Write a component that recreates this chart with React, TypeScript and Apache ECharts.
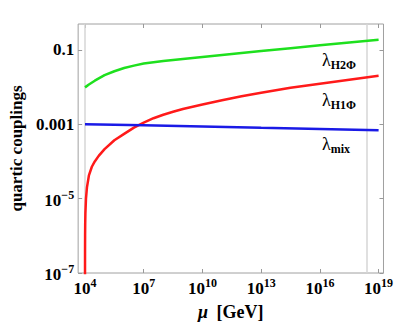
import React, { useEffect, useRef } from "react";
import * as echarts from "echarts";

// log10(mu/GeV) positions and coupling values
const redExp = [4.0, 4.0005, 4.002, 4.005, 4.01, 4.02, 4.05, 4.1, 4.2, 4.35, 4.5, 4.7, 5.0, 5.5, 6.0, 6.5, 7.0, 7.5, 8.0, 8.5, 9.0, 10, 11, 12, 13, 14.5, 16, 17.5, 19];
const redVal = [1e-9, 1e-7, 4e-7, 1e-6, 2e-6, 4e-6, 1.0e-5, 2.0e-5, 4.2e-5, 7.2e-5, 1.0e-4, 1.41e-4, 2.14e-4, 3.72e-4, 5.5e-4, 8.1e-4, 1.11e-3, 1.45e-3, 1.8e-3, 2.16e-3, 2.57e-3, 3.39e-3, 4.42e-3, 5.62e-3, 7.03e-3, 9.6e-3, 1.23e-2, 1.58e-2, 2.0e-2];

const greenExp = [4.0, 4.2, 4.5, 5.0, 5.5, 6.0, 6.5, 7.0, 7.5, 8.0, 9.0, 10, 11.5, 13, 14.5, 16, 17.5, 19];
const greenVal = [0.0098, 0.0117, 0.0148, 0.0209, 0.0266, 0.0324, 0.0376, 0.0427, 0.0462, 0.0501, 0.0569, 0.0646, 0.0776, 0.0933, 0.111, 0.132, 0.157, 0.186];

const blueExp = [4, 7, 10, 13, 16, 19];
const blueVal = [1.0e-3, 9.4e-4, 8.7e-4, 8.0e-4, 7.5e-4, 6.9e-4];

const xTickExp = [4, 7, 10, 13, 16, 19];
const yTickVals = [0.1, 0.001, 1e-5, 1e-7];
const vLineExp = [4, 18.38];

const lineLabels = [
  { sub: "H2Φ", top: 51 },
  { sub: "H1Φ", top: 91 },
  { sub: "mix", top: 135 },
];

const FONT = "'Liberation Serif', 'Times New Roman', serif";

export default function App() {
  const ref = useRef<HTMLDivElement>(null);
  useEffect(() => {
    if (!ref.current) return;
    const chart = echarts.init(ref.current, undefined, { renderer: "svg" });
    const supRich = {
      b: { fontFamily: FONT, fontWeight: "bold", fontSize: 17, color: "#000", verticalAlign: "bottom", lineHeight: 20 },
      s: { fontFamily: FONT, fontWeight: "bold", fontSize: 12, color: "#000", verticalAlign: "top", lineHeight: 14 },
    };
    const toPair = (xs: number[], ys: number[]) => xs.map((x, i) => [x, ys[i]]);
    const labRich = {
      l: { fontFamily: FONT, fontSize: 18, fill: "#000" },
      s: { fontFamily: FONT, fontWeight: "bold", fontSize: 12, fill: "#000", padding: [10, 0, 0, 0] },
    };
    chart.setOption({
      animation: false,
      grid: { left: 72, right: 11, top: 24, bottom: 54, show: true, borderColor: "#a0a0a0", borderWidth: 1 },
      xAxis: [
        {
          type: "value",
          min: 3.65,
          max: 19.25,
          name: "{m|μ}{g| [GeV]}",
          nameLocation: "middle",
          nameGap: 30,
          nameTextStyle: {
            rich: {
              m: { fontFamily: FONT, fontStyle: "italic", fontWeight: "bold", fontSize: 18, color: "#000", padding: [0, 4, 0, 0] },
              g: { fontFamily: FONT, fontWeight: "bold", fontSize: 18, color: "#000" },
            },
          },
          axisLine: { show: false },
          splitLine: { show: false },
          axisTick: { show: true, inside: true, length: 4, customValues: xTickExp, lineStyle: { color: "#999" } },
          axisLabel: {
            customValues: xTickExp,
            margin: 4,
            formatter: (v: number) => `{b|10}{s|${v}}`,
            rich: supRich,
          },
        },
        {
          type: "value",
          position: "top",
          min: 3.65,
          max: 19.25,
          axisLine: { show: false },
          splitLine: { show: false },
          axisLabel: { show: false },
          axisTick: { show: true, inside: true, length: 4, customValues: xTickExp, lineStyle: { color: "#999" } },
        },
      ],
      yAxis: [
        {
          type: "log",
          min: 1e-7,
          max: Math.pow(10, -0.305),
          name: "quartic couplings",
          nameLocation: "middle",
          nameGap: 49,
          nameTextStyle: { fontFamily: FONT, fontWeight: "bold", fontSize: 17, color: "#000" },
          axisLine: { show: false },
          splitLine: { show: false },
          minorTick: { show: false },
          axisTick: { show: true, inside: true, length: 4, customValues: yTickVals, lineStyle: { color: "#999" } },
          axisLabel: {
            customValues: yTickVals,
            margin: 4,
            formatter: (v: number) => {
              const e = Math.round(Math.log10(v));
              if (e >= -3) return `{n|${v.toFixed(-e)}}`;
              return `{b|10}{s|−${-e}}`;
            },
            rich: {
              ...supRich,
              n: { fontFamily: FONT, fontWeight: "bold", fontSize: 17, color: "#000" },
            },
          },
        },
        {
          type: "log",
          position: "right",
          min: 1e-7,
          max: Math.pow(10, -0.305),
          axisLine: { show: false },
          splitLine: { show: false },
          axisLabel: { show: false },
          axisTick: { show: true, inside: true, length: 4, customValues: yTickVals, lineStyle: { color: "#999" } },
        },
      ],
      series: [
        {
          name: "λH1Φ",
          type: "line",
          data: toPair(redExp, redVal),
          showSymbol: false,
          smooth: false,
          lineStyle: { color: "#ff1a1a", width: 2.5, join: "round" },
          clip: true,
          z: 3,
          markLine: {
            silent: true,
            symbol: "none",
            label: { show: false },
            lineStyle: { color: "#d6d6d6", width: 1.5, type: "solid" },
            data: vLineExp.map((v) => ({ xAxis: v })),
            z: 1,
          },
        },
        {
          name: "λH2Φ",
          type: "line",
          data: toPair(greenExp, greenVal),
          showSymbol: false,
          smooth: false,
          lineStyle: { color: "#1ee01e", width: 2.5, join: "round" },
          z: 3,
        },
        {
          name: "λmix",
          type: "line",
          data: toPair(blueExp, blueVal),
          showSymbol: false,
          smooth: false,
          lineStyle: { color: "#1a1ae6", width: 2.5 },
          z: 3,
        },
      ],
      graphic: lineLabels.map((l) => ({
        type: "text",
        left: 322,
        top: l.top,
        style: { text: `{l|λ}{s|${l.sub}}`, rich: labRich },
      })),
    });
    return () => chart.dispose();
  }, []);
  return <div ref={ref} style={{ width: 396, height: 327, position: "absolute", left: 0, top: 0 }} />;
}
